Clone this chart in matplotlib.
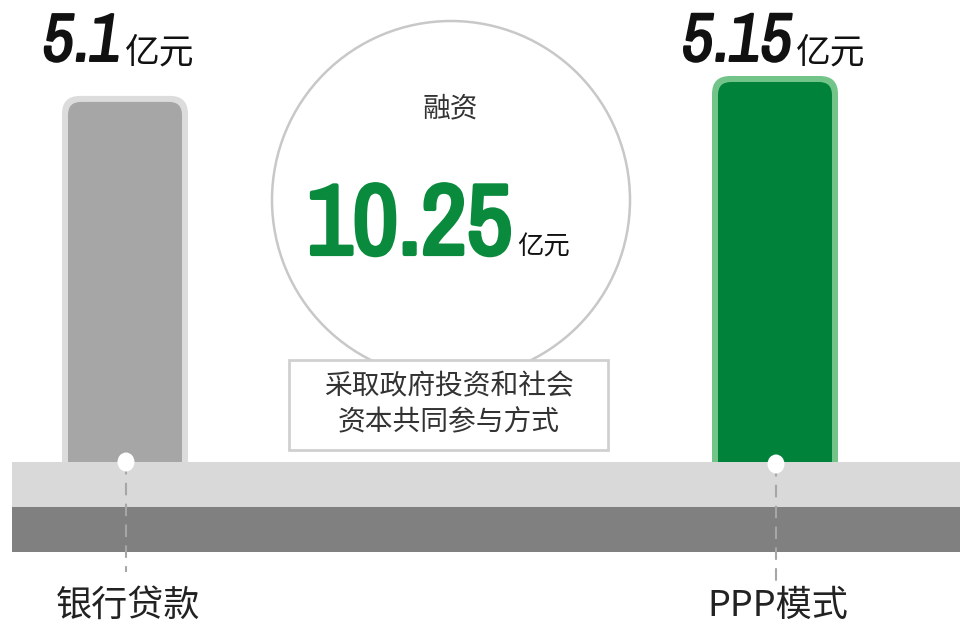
import matplotlib
matplotlib.use("Agg")
import matplotlib.pyplot as plt
import matplotlib.patheffects as pe
from matplotlib.patches import FancyBboxPatch, Circle, Rectangle, Ellipse
from matplotlib import font_manager

# ---- data ----
categories = ["银行贷款", "PPP模式"]
values = [5.1, 5.15]
value_labels = ["5.1", "5.15"]
unit = "亿元"
total_label = "融资"
total_value = "10.25"
note_lines = ["采取政府投资和社会", "资本共同参与方式"]

# ---- fonts ----
tt = font_manager.fontManager.ttflist
names = {f.name for f in tt}
narrow = [f.name for f in tt if ("Narrow" in f.name or "Condensed" in f.name)]
cond = [f.name for f in tt if f.stretch in ("condensed", "semi-condensed",
                                             "extra-condensed", "ultra-condensed")]
if narrow:
    num_font, num_stretch = narrow[0], "normal"
elif cond:
    num_font, num_stretch = cond[0], "condensed"
elif "Roboto" in names:
    num_font, num_stretch = "Roboto", "normal"
else:
    num_font, num_stretch = "DejaVu Sans", "normal"
CJK = ["Noto Sans CJK SC", "DejaVu Sans"]
NUM = [num_font, "DejaVu Sans"]

W, H = 960, 626
fig = plt.figure(figsize=(W / 100, H / 100), dpi=100)
fig.patch.set_facecolor("white")
renderer = fig.canvas.get_renderer()

# bar axes: bottom at platform top (px 462), top at px 76
base_px, top_px = 462, 76
ax_bar = fig.add_axes([0, 1 - base_px / H, 1, (base_px - top_px) / H])
ax_bar.set_xlim(0, W)
ymin, ymax = 4.18, 5.15
ax_bar.set_ylim(ymin, ymax)
ax_bar.axis("off")
asp = ((ymax - ymin) / (base_px - top_px)) / 1.0

bar_centers = [125, 775]
bar_w = 126
outer_cols = ["#dcdcdc", "#72c488"]
inner_cols = ["#a6a6a6", "#00823b"]
bottom = ymin - 0.1
for cx, v, oc, ic in zip(bar_centers, values, outer_cols, inner_cols):
    outer = FancyBboxPatch((cx - bar_w / 2, bottom), bar_w, v - bottom,
                           boxstyle="round,pad=0,rounding_size=18",
                           mutation_aspect=asp, fc=oc, ec="none", clip_on=False)
    inner = FancyBboxPatch((cx - bar_w / 2, bottom), bar_w, v - bottom,
                           boxstyle="round,pad=-6,rounding_size=13",
                           mutation_aspect=asp, fc=ic, ec="none", clip_on=False)
    ax_bar.add_patch(outer)
    ax_bar.add_patch(inner)

# overlay axes in pixel coords
ax = fig.add_axes([0, 0, 1, 1])
ax.set_xlim(0, W)
ax.set_ylim(H, 0)
ax.axis("off")
ax.patch.set_alpha(0)


def fit_text(x, y, s, max_w, max_h, **kw):
    """Place text with the largest size that fits max_w (px wide) and max_h (px tall)."""
    t = ax.text(x, y, s, fontsize=100, **kw)
    bb = t.get_window_extent(renderer)
    fs = min(100 * max_w / bb.width, 100 * max_h / (bb.height * 0.75))
    t.set_fontsize(fs)
    return t


# platform
ax.add_patch(Rectangle((12, 462), W - 12, 45, fc="#d9d9d9", ec="none", zorder=2))
ax.add_patch(Rectangle((12, 507), W - 12, 45, fc="#808080", ec="none", zorder=2))

# dots + dashed leaders + category labels
dot_y = [462, 464]
line_end = [572, 582]
for cx, dy, le, cat in zip(bar_centers, dot_y, line_end, categories):
    ax.plot([cx + 1, cx + 1], [dy, le], color="#a6a6a6", lw=1.5,
            dashes=(6, 4), zorder=3)
    ax.add_patch(Ellipse((cx + 1, dy), 17, 19, fc="white", ec="none", zorder=4))
    ax.text(cx + 3, 606, cat, family=CJK, fontsize=26, color="#222222",
            ha="center", va="center", zorder=5)

# value labels on top of bars
num_right = [121, 792]
num_w = [78, 110]
for xr, lab, mw in zip(num_right, value_labels, num_w):
    fit_text(xr, 61, lab, mw, 48, family=NUM, fontweight="black", stretch=num_stretch,
             fontstyle="italic", color="#111111", ha="right", va="baseline",
             path_effects=[pe.withStroke(linewidth=1.4, foreground="#111111")])
    ax.text(xr + 4, 62, unit, family=CJK, fontsize=25, color="#111111",
            ha="left", va="baseline")

# circle
ax.add_patch(Circle((451, 200), 179, fc="white", ec="#c8c8c8", lw=1.8, zorder=1))
ax.text(450, 108, total_label, family=CJK, fontsize=20, color="#333333",
        ha="center", va="center", zorder=5)
fit_text(512, 254, total_value, 205, 112, family=NUM, fontweight="black",
         stretch=num_stretch, color="#0a8a3c", ha="right", va="baseline", zorder=5,
         path_effects=[pe.withStroke(linewidth=3, foreground="#0a8a3c")])
ax.text(517, 255, unit, family=CJK, fontsize=19, color="#111111",
        ha="left", va="baseline", zorder=5)

# note box
ax.add_patch(Rectangle((289, 360), 319, 90, fc="white", ec="#d0d0d0", lw=2, zorder=3))
for i, line in enumerate(note_lines):
    ax.text(449, 386 + i * 36, line, family=CJK, fontsize=20, color="#333333",
            ha="center", va="center", zorder=5)

fig.savefig("out.png", dpi=100, facecolor="white")
